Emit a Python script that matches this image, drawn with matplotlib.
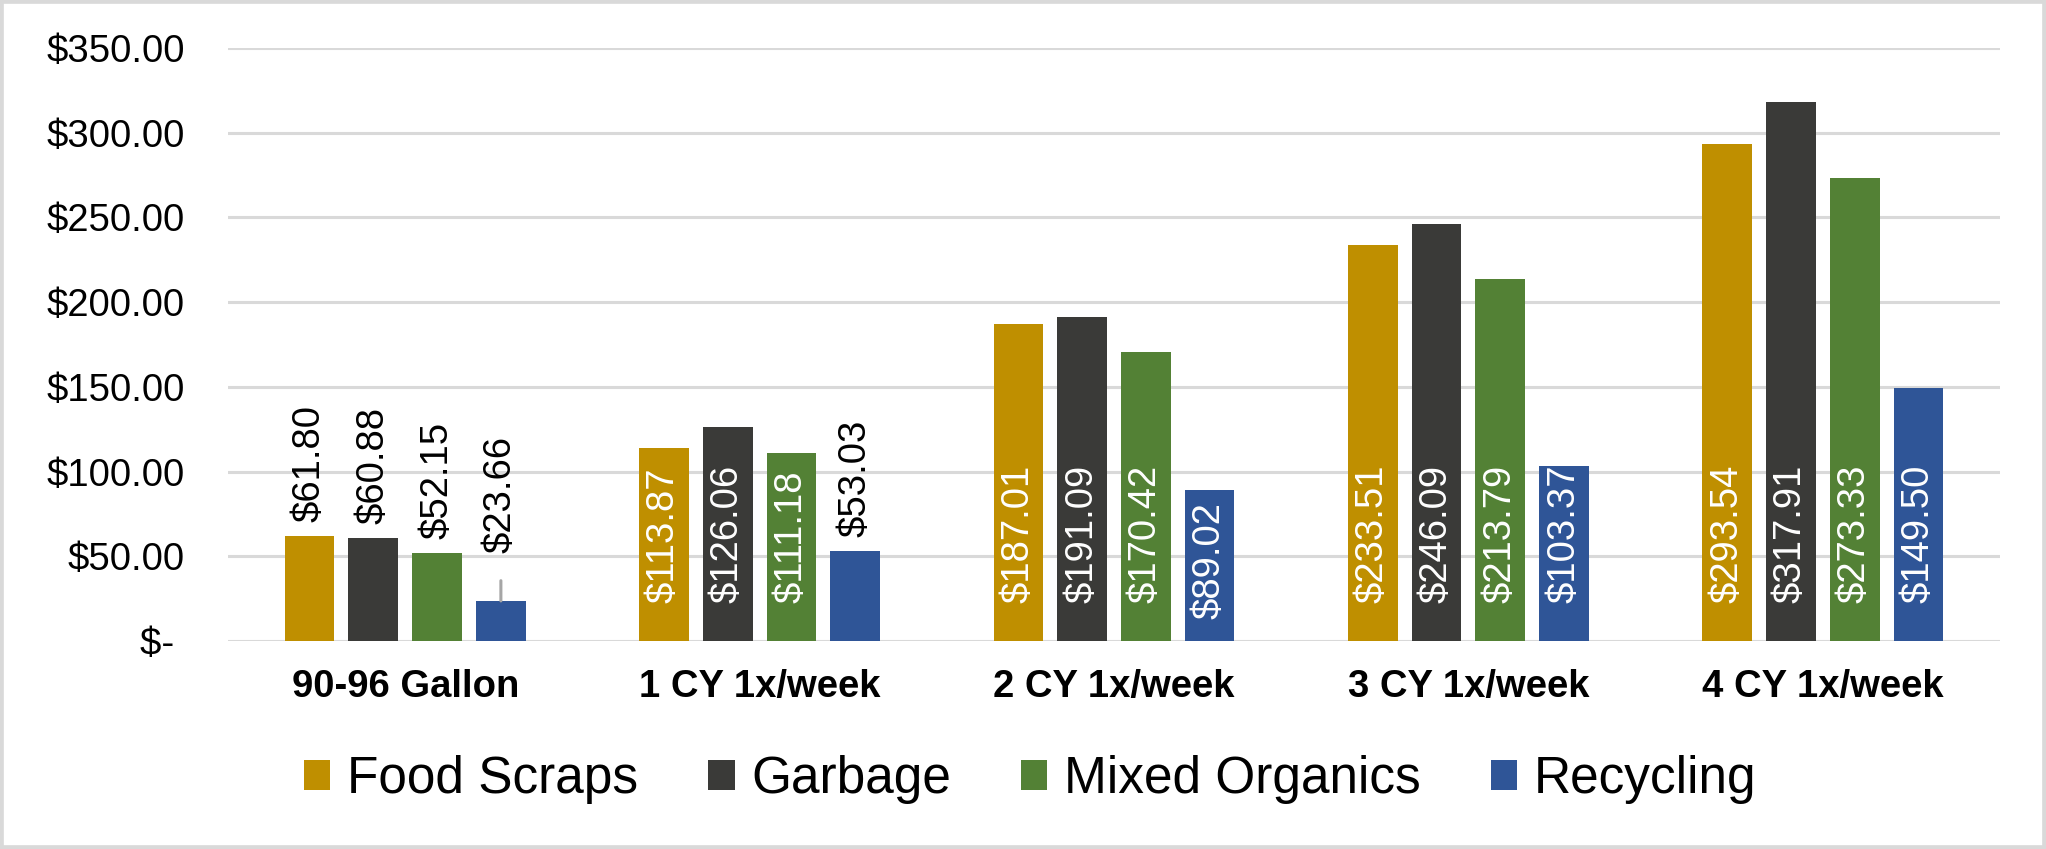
import matplotlib
matplotlib.use("Agg")
import matplotlib.pyplot as plt
from matplotlib.patches import Rectangle
import numpy as np

categories = ["90-96 Gallon", "1 CY 1x/week", "2 CY 1x/week", "3 CY 1x/week", "4 CY 1x/week"]
series_names = ["Food Scraps", "Garbage", "Mixed Organics", "Recycling"]
food_scraps = [61.80, 113.87, 187.01, 233.51, 293.54]
garbage = [60.88, 126.06, 191.09, 246.09, 317.91]
mixed_organics = [52.15, 111.18, 170.42, 213.79, 273.33]
recycling = [23.66, 53.03, 89.02, 103.37, 149.50]
y_ticks = [0, 50, 100, 150, 200, 250, 300, 350]
y_tick_labels = ["$- ", "$50.00", "$100.00", "$150.00", "$200.00", "$250.00", "$300.00", "$350.00"]

colors = ["#BF8F00", "#3A3A38", "#538135", "#2F5597"]
series = [food_scraps, garbage, mixed_organics, recycling]

plt.rcParams['font.family'] = ['Liberation Sans', 'DejaVu Sans']

W, H, DPI = 2046, 849, 100
fig = plt.figure(figsize=(W / DPI, H / DPI), dpi=DPI)
ax = fig.add_axes([228 / W, 1 - 641 / H, 1772 / W, 593 / H])

x = np.arange(len(categories))
step = 0.18
width = 0.14
for i, (vals, col, name) in enumerate(zip(series, colors, series_names)):
    xpos = x + (i - 1.5) * step
    ax.bar(xpos, vals, width=width, color=col, label=name, zorder=3)
    for xp, v in zip(xpos, vals):
        lab = f"${v:.2f}"
        if v < 70:
            if v < 30:
                ax.annotate(lab, xy=(xp, v), xytext=(0, 48), textcoords='offset pixels',
                            rotation=90, ha='center', va='bottom', fontsize=27.5,
                            color='black', zorder=4,
                            arrowprops=dict(arrowstyle='-', color='#A6A6A6', lw=2.2,
                                            shrinkA=18, shrinkB=0))
            else:
                ax.annotate(lab, xy=(xp, v), xytext=(0, 14), textcoords='offset pixels',
                            rotation=90, ha='center', va='bottom', fontsize=27.5,
                            color='black', zorder=4)
        else:
            off = 22 + 16 * (len(lab) - 6)
            ax.annotate(lab, xy=(xp, 0), xytext=(0, off), textcoords='offset pixels',
                        rotation=90, ha='center', va='bottom', fontsize=27.5,
                        color='white', zorder=4)

ax.set_xlim(-0.5, len(categories) - 0.5)
ax.set_ylim(0, 350)
ax.set_yticks(y_ticks)
ax.set_yticklabels(y_tick_labels, fontsize=27.5)
ax.set_xticks(x)
ax.set_xticklabels(categories, fontsize=27.5, fontweight='bold')
ax.tick_params(axis='y', length=0, pad=31)
ax.tick_params(axis='x', length=0, pad=20)
for s in ax.spines.values():
    s.set_visible(False)
ax.grid(axis='y', color='#D9D9D9', lw=2.2, zorder=0)
ax.set_axisbelow(True)

leg = fig.legend(loc='center', bbox_to_anchor=(1030 / W, 1 - 780 / H), ncol=4,
                 frameon=False, fontsize=37, handlelength=0.52, handleheight=0.52,
                 handletextpad=0.32, columnspacing=1.36)

fig.patches.append(Rectangle((0, 0), 1, 1, transform=fig.transFigure, fill=False,
                             edgecolor='#D9D9D9', lw=5.5, zorder=10))

fig.savefig("out.png", dpi=DPI, facecolor='white')
